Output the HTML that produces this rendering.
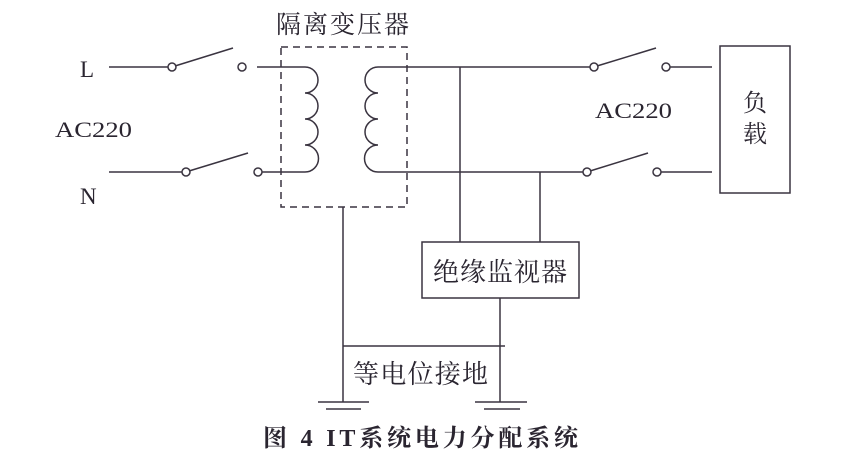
<!DOCTYPE html>
<html><head><meta charset="utf-8"><style>
html,body{margin:0;padding:0;background:#fff;}
svg{display:block}
text{font-family:"Liberation Serif","Noto Serif CJK SC",serif;fill:#2a2530}
</style></head><body>
<svg width="844" height="452" viewBox="0 0 844 452" xmlns="http://www.w3.org/2000/svg">
<g stroke="#3a3440" stroke-width="1.5" fill="none">
<line x1="109" y1="67" x2="168" y2="67"/>
<circle cx="172" cy="67" r="4" fill="#fff"/>
<line x1="175" y1="66" x2="233" y2="48"/>
<circle cx="242" cy="67" r="4" fill="#fff"/>
<line x1="109" y1="172" x2="182" y2="172"/>
<circle cx="186" cy="172" r="4" fill="#fff"/>
<line x1="189" y1="171" x2="248" y2="153"/>
<circle cx="258" cy="172" r="4" fill="#fff"/>
<path d="M257,67 H305 A13,13 0 0 1 305,93 A13,13 0 0 1 305,119 A13,13 0 0 1 305,145 A13.5,13.5 0 0 1 305,172 H262"/>
<path d="M590,67 H378 A13,13 0 0 0 378,93 A13,13 0 0 0 378,119 A13,13 0 0 0 378,145 A13.5,13.5 0 0 0 378,172 H583"/>
<rect x="281" y="47" width="126" height="160" stroke-dasharray="7,5"/>
<circle cx="594" cy="67" r="4" fill="#fff"/>
<line x1="597" y1="66" x2="656" y2="48"/>
<circle cx="666" cy="67" r="4" fill="#fff"/>
<line x1="670" y1="67" x2="712" y2="67"/>
<circle cx="587" cy="172" r="4" fill="#fff"/>
<line x1="590" y1="171" x2="648" y2="153"/>
<circle cx="657" cy="172" r="4" fill="#fff"/>
<line x1="661" y1="172" x2="712" y2="172"/>
<rect x="720" y="46" width="70" height="147"/>
<line x1="460" y1="67" x2="460" y2="242"/>
<line x1="540" y1="172" x2="540" y2="242"/>
<rect x="422" y="242" width="157" height="56"/>
<line x1="500" y1="298" x2="500" y2="402"/>
<line x1="343" y1="207" x2="343" y2="402"/>
<line x1="343" y1="346" x2="505" y2="346"/>
<line x1="318" y1="402" x2="369" y2="402"/>
<line x1="326" y1="409" x2="361" y2="409"/>
<line x1="475" y1="402" x2="527" y2="402"/>
<line x1="484" y1="409" x2="520" y2="409"/>
</g>
<text x="80" y="77" font-size="23">L</text>
<text x="80" y="204" font-size="23">N</text>
<text x="55" y="137" font-size="22" textLength="77" lengthAdjust="spacingAndGlyphs">AC220</text>
<text x="595" y="118" font-size="22" textLength="77" lengthAdjust="spacingAndGlyphs">AC220</text>
<text x="276" y="33" font-size="25" fill="#5a5060" textLength="133" lengthAdjust="spacing">隔离变压器</text>
<text x="433" y="281" font-size="26" textLength="134" lengthAdjust="spacing">绝缘监视器</text>
<text x="353" y="383" font-size="26" textLength="135" lengthAdjust="spacing">等电位接地</text>
<text x="743" y="111" font-size="24">负</text>
<text x="743" y="142" font-size="24">载</text>
<text x="263" y="446" font-size="24" font-weight="bold" textLength="315" lengthAdjust="spacing">图 4 IT系统电力分配系统</text>
</svg>
</body></html>
